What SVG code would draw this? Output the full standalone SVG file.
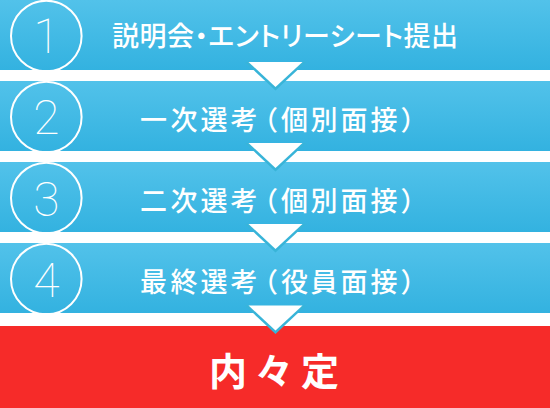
<svg xmlns="http://www.w3.org/2000/svg" width="550" height="408" viewBox="0 0 550 408">
  <defs>
    <linearGradient id="blue" x1="0" y1="0" x2="0" y2="1">
      <stop offset="0" stop-color="#52c2ea"/>
      <stop offset="1" stop-color="#33b2e0"/>
    </linearGradient>
    <polygon id="arrowBorder" points="245,0 306,0 275.5,28.5" fill="#38b4d8"/>
    <polygon id="arrowFill" points="248.5,0 302.5,0 275.5,25" fill="#ffffff"/>
  </defs>
  <style>
    .bar { fill: url(#blue); }
    .ring { fill: none; stroke: #ffffff; stroke-width: 2; }
    .num { fill: #ffffff; font-family: Roboto, Lato, Inter, "Liberation Sans", sans-serif; font-weight: 100; font-size: 48px; text-anchor: middle; }
    .label { fill: #ffffff; font-family: "Noto Sans CJK JP", "Noto Sans", sans-serif; font-size: 27px; font-weight: 500; }
    .final { fill: #ffffff; font-family: "Noto Sans CJK JP", "Noto Sans", sans-serif; font-size: 38px; font-weight: 700; letter-spacing: 8px; text-anchor: middle; }
  </style>
  <rect width="550" height="408" fill="#ffffff"/>

  <g id="step1">
    <rect class="bar" x="0" y="0" width="550" height="70"/>
    <circle class="ring" cx="46.3" cy="36" r="35.3"/>
    <text class="num" x="46.3" y="52.7">1</text>
    <text class="label" x="112" y="45.5" textLength="346" lengthAdjust="spacing" style="font-feature-settings:'palt'">説明会・エントリーシート提出</text>
  </g>

  <g id="step2">
    <rect class="bar" x="0" y="81" width="550" height="70"/>
    <circle class="ring" cx="46.3" cy="117" r="35.3"/>
    <text class="num" x="46.3" y="134">2</text>
    <text class="label" x="140 170.5 200.5 230.5 251 281 310.5 340.5 370.5 400.5" y="129.8">一次選考（個別面接）</text>
  </g>

  <g id="step3">
    <rect class="bar" x="0" y="162" width="550" height="70"/>
    <circle class="ring" cx="46.3" cy="198" r="35.3"/>
    <text class="num" x="46.3" y="215.5">3</text>
    <text class="label" x="140 170.5 200.5 230.5 251 281 310.5 340.5 370.5 400.5" y="210.8">二次選考（個別面接）</text>
  </g>

  <g id="step4">
    <rect class="bar" x="0" y="243" width="550" height="70"/>
    <circle class="ring" cx="46.3" cy="279" r="35.3"/>
    <text class="num" x="46.3" y="296.5">4</text>
    <text class="label" x="140 170.5 200.5 230.5 251 281 310.5 340.5 370.5 400.5" y="291.8">最終選考（役員面接）</text>
  </g>

  <g id="final">
    <rect x="0" y="326" width="550" height="82" fill="#f62b29"/>
    <text class="final" x="278" y="385">内々定</text>
  </g>

  <g id="connectors">
    <g transform="translate(0,62)"><use href="#arrowBorder"/><use href="#arrowFill"/></g>
    <g transform="translate(0,143)"><use href="#arrowBorder"/><use href="#arrowFill"/></g>
    <g transform="translate(0,224)"><use href="#arrowBorder"/><use href="#arrowFill"/></g>
    <g transform="translate(0,305.5)"><use href="#arrowBorder"/><use href="#arrowFill"/></g>
  </g>
</svg>
